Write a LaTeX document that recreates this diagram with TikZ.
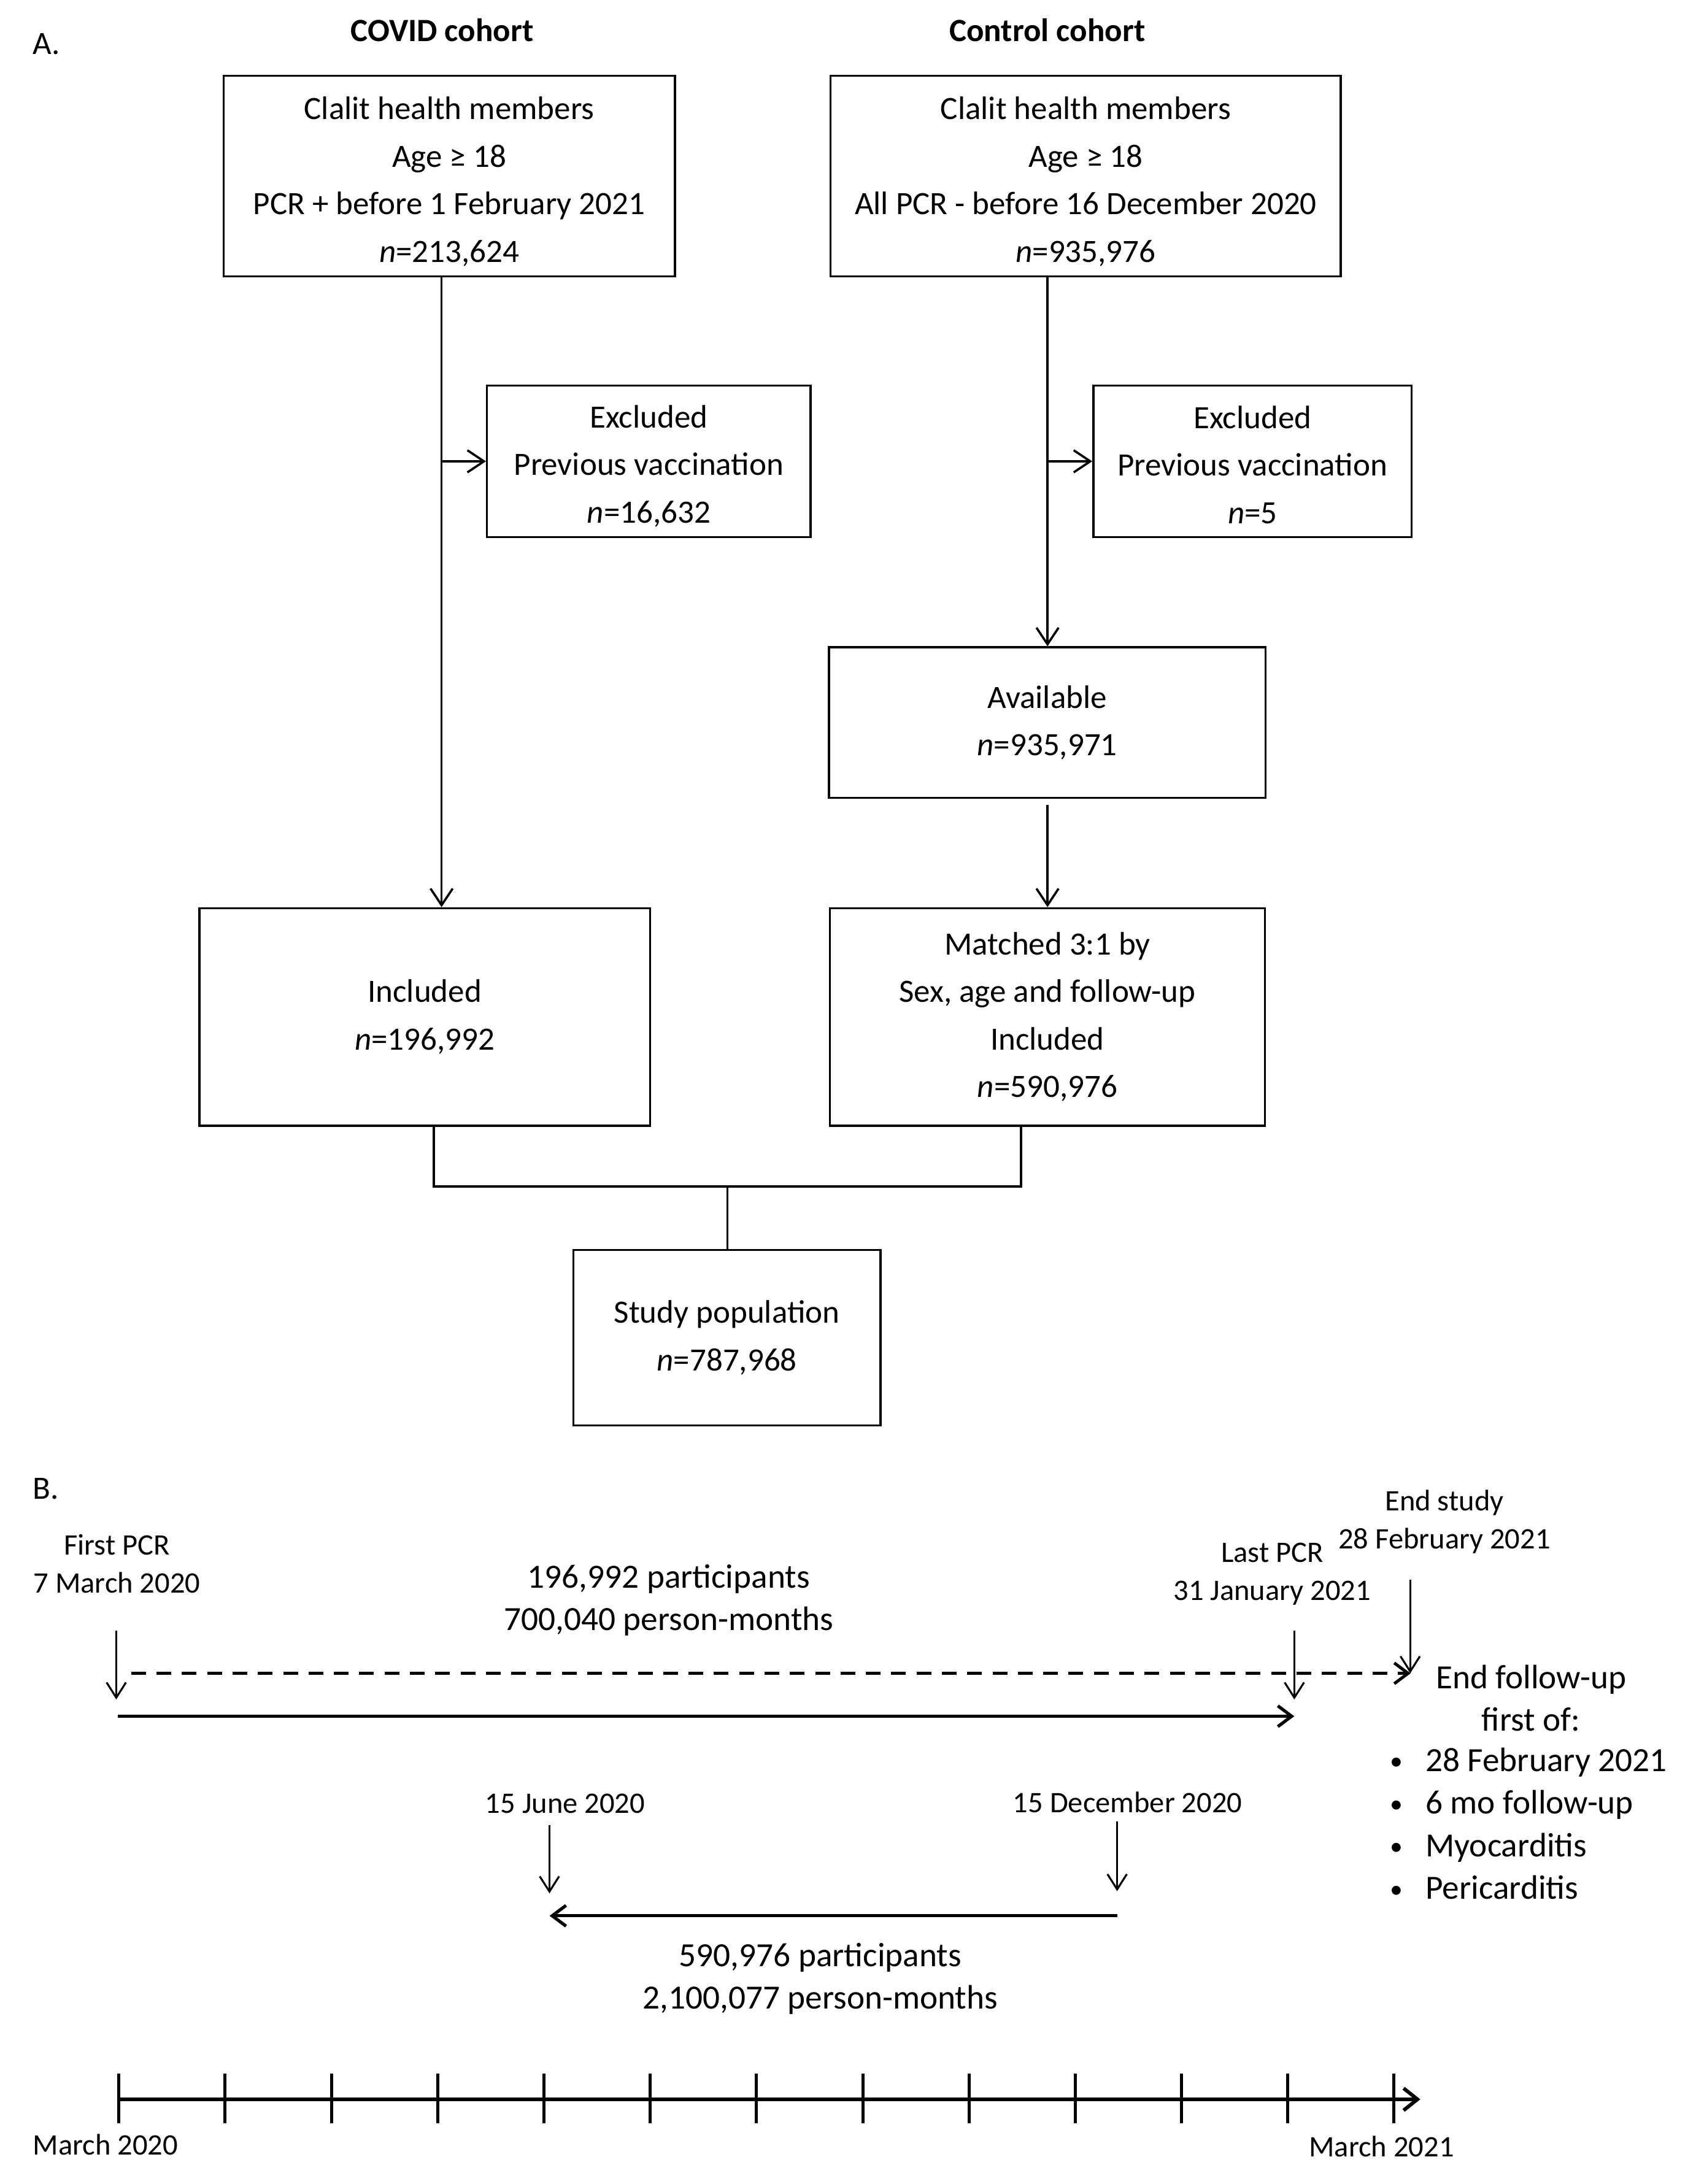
\documentclass[tikz,border=0pt]{standalone}
\usepackage{fontspec}
\setmainfont{Carlito}
\usetikzlibrary{arrows.meta}
\begin{document}
\begin{tikzpicture}[x=1pt,y=-1pt,
  fA/.style={font=\fontsize{23.5}{34.3}\selectfont},
  fAb/.style={font=\fontsize{23.5}{34.3}\selectfont\bfseries},
  fB/.style={font=\fontsize{24.5}{30.8}\selectfont},
  fC/.style={font=\fontsize{21.5}{27.4}\selectfont},
  box/.style={draw, line width=1.5pt, align=center, inner sep=0pt, fA},
  lbl/.style={align=center, inner sep=0pt},
  arr/.style={line width=1.6pt, -{Straight Barb[length=12pt,width=16pt]}},
  ln/.style={line width=1.6pt},
  tarr/.style={line width=1.4pt, -{Straight Barb[length=11pt,width=14pt]}},
  barr/.style={line width=2.3pt, -{Straight Barb[length=10pt,width=15pt]}},
  dsh/.style={line width=2.2pt, dash pattern=on 10.6pt off 7.7pt, -{Straight Barb[length=10pt,width=15pt]}},
  axisln/.style={line width=2.6pt, -{Straight Barb[length=10pt,width=16pt]}},
  tickln/.style={line width=2.2pt}
]
\fill[white] (0,0) rectangle (1225,1578);
\useasboundingbox (0,0) rectangle (1225,1578);

\newcommand\smbul{\makebox[25.6pt][l]{\raisebox{1pt}{\fontsize{18.5}{18.5}\selectfont •}}}

% ---------------- Part A ----------------
\node[lbl, fA, anchor=west] (la) at (23.7,31.8) {A.};
\node[lbl, fAb] (hcovid) at (319.4,21.6) {COVID cohort};
\node[lbl, fAb] (hctrl) at (756.6,21.6) {Control cohort};

\node[box, minimum width=326pt, minimum height=145pt] (c1) at (324.5,127.2) {};
\node[lbl, fA] (c1t) at ([yshift=-4pt]c1.center)
  {Clalit health members\\Age ≥ 18\\PCR + before 1 February 2021\\\textit{n}=213,624};
\node[box, minimum width=368.5pt, minimum height=145pt] (c2) at (784.3,127.2) {};
\node[lbl, fA] (c2t) at ([yshift=-4pt]c2.center)
  {Clalit health members\\Age ≥ 18\\All PCR - before 16 December 2020\\\textit{n}=935,976};
\node[box, minimum width=233.8pt, minimum height=109.4pt] (e1) at (468.7,333.3) {};
\node[lbl, fA] (e1t) at ([yshift=-3.5pt]e1.center)
  {Excluded\\Previous vaccination\\\textit{n}=16,632};
\node[box, minimum width=230pt, minimum height=109.4pt] (e2) at (904.8,333.3) {};
\node[lbl, fA] (e2t) at ([yshift=-2.5pt]e2.center)
  {Excluded\\Previous vaccination\\\textit{n}=5};
\node[box, minimum width=315.4pt, minimum height=108.8pt] (av) at (756.5,522.1)
  {Available\\\textit{n}=935,971};
\node[box, minimum width=325.4pt, minimum height=157.1pt] (inc) at (306.8,734.75)
  {Included\\\textit{n}=196,992};
\node[box, minimum width=314.2pt, minimum height=157.1pt] (mat) at (756.6,734.75)
  {Matched 3:1 by\\Sex, age and follow-up\\Included\\\textit{n}=590,976};
\node[box, minimum width=221.8pt, minimum height=127pt] (sp) at (525.1,966.5)
  {Study population\\\textit{n}=787,968};

\coordinate (xL) at (319,0);
\coordinate (xR) at (756.7,0);
\coordinate (xm1) at (313.3,0);
\coordinate (xm2) at (737.5,0);
\coordinate (m) at (525.4,857.3);

\draw[arr] (c1.south -| xL) -- (inc.north -| xL);
\draw[arr] (e1.west -| xL) -- (e1.west);
\draw[arr] (c2.south -| xR) -- (av.north -| xR);
\draw[arr] (e2.west -| xR) -- (e2.west);
\draw[arr] ([yshift=-4.5pt]av.south -| xR) -- (mat.north -| xR);
\draw[ln] (inc.south -| xm1) |- (m) -| (mat.south -| xm2);
\draw[ln] (m) -- (sp.north -| m);

% ---------------- Part B ----------------
\node[lbl, fA, anchor=west] (lb) at (23.4,1075.7) {B.};
\node[lbl, fC] (tfirst) at (84.4,1129.7) {First PCR\\7 March 2020};
\node[lbl, fB] (tp1) at (483,1156.1) {196,992 participants\\700,040 person-months};
\node[lbl, fC] (tlast) at (919,1137.3) {Last PCR\\31 January 2021};
\node[lbl, fC] (tend) at (1043.4,1099.4) {End study\\28 February 2021};
\node[lbl, fB] (tfu) at (1106,1227) {End follow-up\\first of:};
\node[lbl, fB, align=left, anchor=west] (tbul) at (1004,1317.5)
  {\smbul 28 February 2021\\\smbul 6 mo follow-up\\\smbul Myocarditis\\\smbul Pericarditis};
\node[lbl, fC] (tjun) at (408.2,1303) {15 June 2020};
\node[lbl, fC] (tdec) at (814.5,1302) {15 December 2020};
\node[lbl, fB] (tp2) at (592.5,1429.7) {590,976 participants\\2,100,077 person-months};
\node[lbl, fC] (tm20) at (76.2,1549.5) {March 2020};
\node[lbl, fC] (tm21) at (998,1551) {March 2021};

\coordinate (a1s) at (84,1178.3);   \coordinate (a1e) at (84,1227.9);
\coordinate (ds) at (94.8,1209);    \coordinate (de) at (1019,1209);
\coordinate (a2s) at (935,1178.3);  \coordinate (a2e) at (935,1227.9);
\coordinate (a3s) at (1018.7,1141.3); \coordinate (a3e) at (1018.7,1209);
\coordinate (s1s) at (85,1240);     \coordinate (s1e) at (935,1240);
\coordinate (a4s) at (396.9,1318.5); \coordinate (a4e) at (396.9,1368);
\coordinate (a5s) at (807,1315.8);  \coordinate (a5e) at (807,1366.4);
\coordinate (s2s) at (807,1384.2);  \coordinate (s2e) at (397,1384.2);
\coordinate (ts) at (84.8,1516.8);  \coordinate (te) at (1026,1516.8);

\draw[tarr] (a1s) -- (a1e);
\draw[dsh] (ds) -- (de);
\draw[tarr] (a2s) -- (a2e);
\draw[tarr] (a3s) -- (a3e);
\draw[barr] (s1s) -- (s1e);
\draw[tarr] (a4s) -- (a4e);
\draw[tarr] (a5s) -- (a5e);
\draw[barr] (s2s) -- (s2e);
\draw[axisln] (ts) -- (te);
\foreach \i in {0,...,12} {
  \draw[tickln] (85.9+76.76*\i,1498) -- (85.9+76.76*\i,1534);
}
\end{tikzpicture}
\end{document}
